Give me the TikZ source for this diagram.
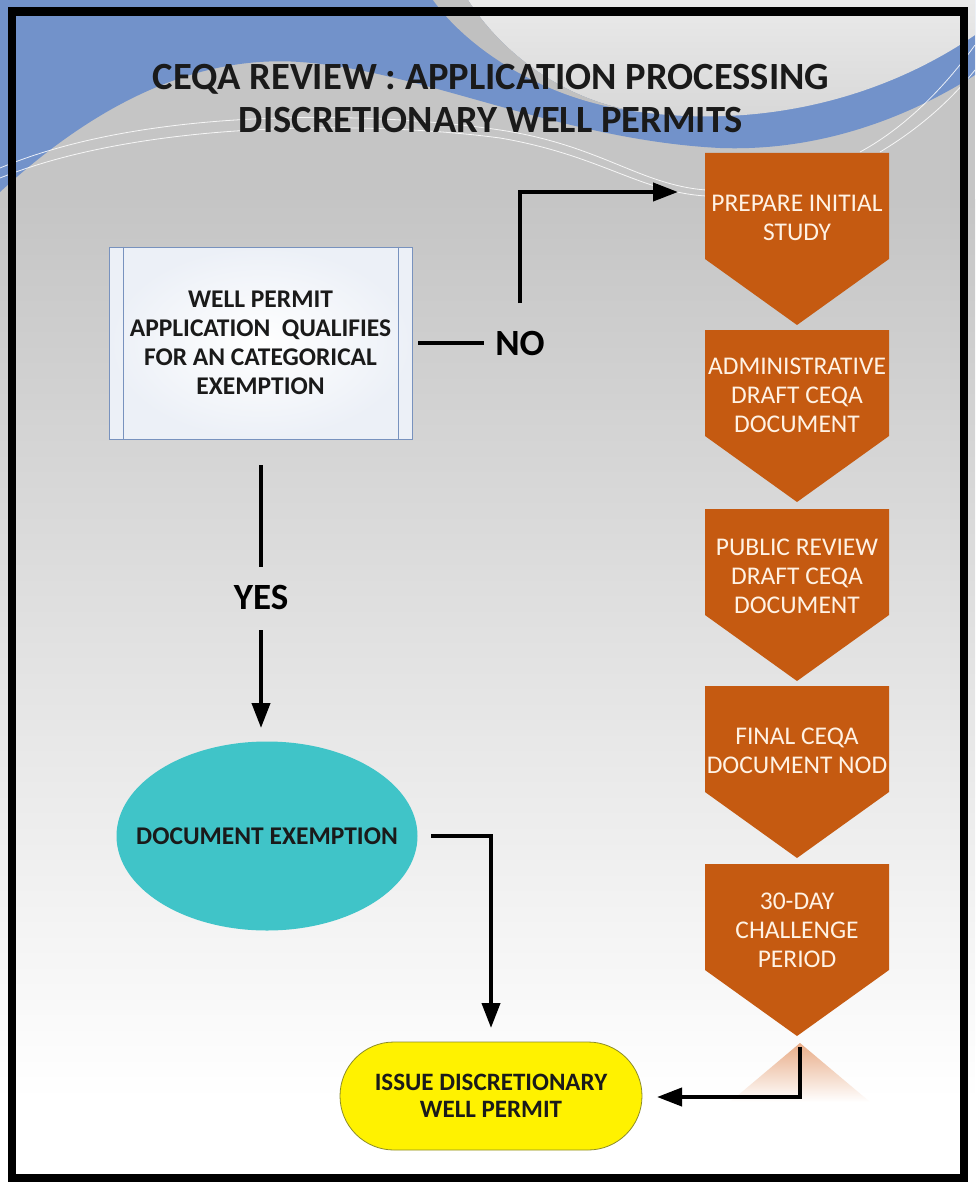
\documentclass[tikz,border=0pt]{standalone}
\usepackage{fontspec}
\setmainfont{Carlito}
\usetikzlibrary{arrows.meta,shapes.geometric,shapes.misc}
\definecolor{bgtop}{RGB}{197,197,197}
\definecolor{bluew}{RGB}{114,146,202}
\definecolor{lighttop}{RGB}{234,234,234}
\definecolor{lightbot}{RGB}{214,214,214}
\definecolor{wedgec}{RGB}{192,192,192}
\definecolor{chevc}{RGB}{197,90,17}
\definecolor{chevtext}{RGB}{255,242,228}
\definecolor{ellc}{RGB}{64,196,200}
\definecolor{boxedge}{RGB}{120,146,190}
\definecolor{boxouter}{RGB}{236,240,247}
\definecolor{yellowedge}{RGB}{140,140,40}
\definecolor{reflc}{RGB}{232,172,135}
\definecolor{txtdark}{RGB}{26,26,26}
\begin{document}
\begin{tikzpicture}[x=1pt,y=-1pt,
  wline/.style={white,line width=0.8pt,opacity=0.85},
  conn/.style={line width=4pt,black},
  arr/.style={line width=4pt,black,-{Triangle[length=25pt,width=18pt]}},
  bigl/.style={font=\bfseries\fontsize{37}{40}\selectfont,inner sep=0pt,text=black},
  chevfill/.style={fill=chevc},
  chevtxt/.style={font=\fontsize{25.5}{29}\selectfont,text=chevtext,align=center,inner sep=0pt},
  qbox/.style={draw=boxedge,line width=0.8pt,inner color=white,outer color=boxouter,
    minimum width=303pt,minimum height=192pt,align=center,
    font=\bfseries\fontsize{25.5}{29}\selectfont,text=txtdark},
  exemptstyle/.style={ellipse,fill=ellc,minimum width=301pt,minimum height=189pt,
    font=\bfseries\fontsize{25.5}{28}\selectfont,text=txtdark,inner sep=0pt},
  issuestyle/.style={rounded rectangle,fill=yellow,draw=yellowedge,line width=0.8pt,
    minimum width=302pt,minimum height=108pt,align=center,
    font=\bfseries\fontsize{25}{27}\selectfont,text=txtdark,inner sep=0pt}
]
\useasboundingbox (0,0) rectangle (975,1182);
% background
\fill[bgtop] (0,0) rectangle (975,200);
\shade[top color=bgtop,bottom color=white] (0,200) rectangle (975,1100);
\fill[white] (0,1100) rectangle (975,1182);
\fill[bluew] (0,0) -- (975,0) -- (975,75) .. controls (920,110) and (830,152) .. (720,148)
  .. controls (560,140) and (420,70) .. (300,62) .. controls (200,55) and (100,100) .. (0,192) -- cycle;
\shade[top color=lighttop,bottom color=lightbot] (468,0) .. controls (500,50) and (560,100) .. (640,112)
  .. controls (760,128) and (880,100) .. (975,35) -- (975,0) -- cycle;
\fill[wedgec] (433,0) .. controls (465,45) and (540,100) .. (640,112)
  .. controls (560,100) and (500,50) .. (468,0) -- cycle;
\draw[wline] (0,168) .. controls (150,105) and (380,112) .. (500,130) .. controls (600,145) and (640,185) .. (706,190);
\draw[wline] (0,178) .. controls (150,118) and (380,122) .. (500,138) .. controls (600,155) and (640,192) .. (706,196);
\draw[wline] (860,152) .. controls (910,125) and (950,80) .. (975,45);
\draw[wline] (880,152) .. controls (925,125) and (955,95) .. (975,70);
% reflection under last chevron
\shade[top color=reflc,bottom color=white] (800,1043) -- (870,1102) -- (730,1102) -- cycle;
% frame
\draw[line width=8.5pt,black] (12,11.5) rectangle (964,1178);
% title
\node[font=\bfseries\fontsize{38.5}{43}\selectfont,align=center,text=txtdark] (title) at (491,99)
  {CEQA REVIEW : APPLICATION PROCESSING\\DISCRETIONARY WELL PERMITS};
% question box
\node[qbox] (box) at (260.5,343) {WELL PERMIT\\APPLICATION\ \ QUALIFIES\\FOR AN CATEGORICAL\\EXEMPTION};
\draw[boxedge,line width=0.8pt] ([xshift=15pt]box.north west) -- ([xshift=15pt]box.south west);
\draw[boxedge,line width=0.8pt] ([xshift=-14pt]box.north east) -- ([xshift=-14pt]box.south east);
% labels
\node[bigl] (no) at (520,343) {NO};
\node[bigl] (yes) at (261,597) {YES};
% chevrons
\foreach \t in {153,330,509,686,864}{
  \fill[chevfill] (705,\t) -- (889,\t) -- (889,\t+106) -- (797,\t+172) -- (705,\t+106) -- cycle;
}
\node[chevtxt] (c1) at (797,218) {PREPARE INITIAL\\STUDY};
\node[chevtxt] (c2) at (797,395) {ADMINISTRATIVE\\DRAFT CEQA\\DOCUMENT};
\node[chevtxt] (c3) at (797,576) {PUBLIC REVIEW\\DRAFT CEQA\\DOCUMENT};
\node[chevtxt] (c4) at (797,751) {FINAL CEQA\\DOCUMENT NOD};
\node[chevtxt] (c5) at (797,930) {30-DAY\\CHALLENGE\\PERIOD};
% end shapes
\node[exemptstyle] (exempt) at (267,836) {\makebox[0pt]{DOCUMENT EXEMPTION}};
\node[issuestyle] (issue) at (491,1096) {ISSUE DISCRETIONARY\\WELL PERMIT};
% connector points
\coordinate (noout) at (418,343);
\coordinate (noin) at (484,343);
\coordinate (noup) at (520,303);
\coordinate (c1in) at (678,192);
\coordinate (yesa) at (261,465);
\coordinate (yesb) at (261,567);
\coordinate (yesc) at (261,630);
\coordinate (exin) at (261,728);
\coordinate (exout) at (431,836);
\coordinate (issin) at (491,1028);
\coordinate (c5out) at (800,1047);
\coordinate (issright) at (657,1097);
% connectors
\draw[conn] (noout) -- (noin);
\draw[arr] (noup) |- (c1in);
\draw[conn] (yesa) -- (yesb);
\draw[arr] (yesc) -- (exin);
\draw[arr] (exout) -| (issin);
\draw[arr] (c5out) |- (issright);
\end{tikzpicture}
\end{document}
